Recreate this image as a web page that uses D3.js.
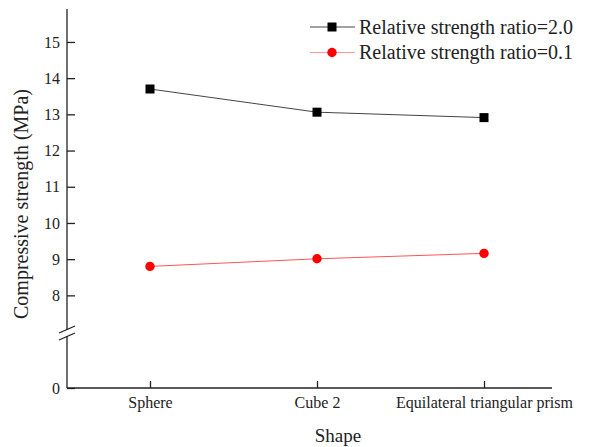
<!DOCTYPE html>
<html>
<head>
<meta charset="utf-8"/>
<script src="https://d3js.org/d3.v7.min.js"></script>
</head>
<body style="margin:0; background:#fff">
<svg id="chart" width="605" height="447"></svg>
<script>
// data
const shapes = ["Sphere", "Cube 2", "Equilateral triangular prism"];
const ratio20 = [13.70, 13.06, 12.91];
const ratio01 = [8.80, 9.01, 9.16];
const seriesNames = ["Relative strength ratio=2.0", "Relative strength ratio=0.1"];
const yTicks = [0, 8, 9, 10, 11, 12, 13, 14, 15];

const serif = "Liberation Serif";
const ink = "#222";
const svg = d3.select("#chart");
const axLeft = 67, axRight = 552, axBottom = 388, axTop = 9;

// broken y axis: 0 sits below the break, 8..15 above it
const y = d3.scaleLinear()
    .domain([0, 6.85, 15.91])
    .range([axBottom, 337, axTop]);
const x = d3.scalePoint()
    .domain(shapes)
    .range([150, 484]);

// axis lines
svg.append("line")
    .attr("x1", axLeft).attr("x2", axRight)
    .attr("y1", axBottom).attr("y2", axBottom)
    .style("stroke", ink).style("stroke-width", 1.3);
svg.append("line")
    .attr("x1", axLeft).attr("x2", axLeft)
    .attr("y1", axTop).attr("y2", 330)
    .style("stroke", ink).style("stroke-width", 1.3);
svg.append("line")
    .attr("x1", axLeft).attr("x2", axLeft)
    .attr("y1", 336).attr("y2", axBottom)
    .style("stroke", ink).style("stroke-width", 1.3);
// break marks
[[59, 333, 75, 326], [59, 340, 75, 333]].forEach(function(b) {
    svg.append("line")
        .attr("x1", b[0]).attr("y1", b[1])
        .attr("x2", b[2]).attr("y2", b[3])
        .style("stroke", ink).style("stroke-width", 1.3);
});

// y ticks, pointing inward
const yAxis = svg.append("g")
    .attr("transform", "translate(" + axLeft + ",0)")
    .call(d3.axisRight(y).tickValues(yTicks).tickSize(8).tickFormat(d3.format("d")));
yAxis.attr("font-family", null).attr("font-size", null);
yAxis.select(".domain").remove();
yAxis.selectAll("line").style("stroke", ink).style("stroke-width", 1.3);
yAxis.selectAll("text")
    .attr("x", -7)
    .attr("text-anchor", "end")
    .style("fill", ink)
    .style("font-size", "16px")
    .style("font-family", serif);

// x ticks, pointing up
const xAxis = svg.append("g")
    .attr("transform", "translate(0," + axBottom + ")")
    .call(d3.axisTop(x).tickSize(7));
xAxis.attr("font-family", null).attr("font-size", null);
xAxis.select(".domain").remove();
xAxis.selectAll("line").style("stroke", ink).style("stroke-width", 1.3);
xAxis.selectAll("text")
    .attr("y", 20)
    .attr("dy", 0)
    .style("fill", ink)
    .style("font-size", "16px")
    .style("font-family", serif);

// axis titles
svg.append("text")
    .text("Shape")
    .attr("x", 338).attr("y", 442)
    .attr("text-anchor", "middle")
    .style("fill", ink)
    .style("font-family", serif)
    .style("font-size", "19px");
svg.append("text")
    .text("Compressive strength (MPa)")
    .attr("transform", "translate(28,204) rotate(-90)")
    .attr("text-anchor", "middle")
    .style("fill", ink)
    .style("font-family", serif)
    .style("font-size", "20px");

// series
const series = [
    { name: seriesNames[0], values: ratio20, line: "#444", fill: "#000", mark: "square" },
    { name: seriesNames[1], values: ratio01, line: "#ff5555", fill: "#ff0000", mark: "circle" }
];
const line = d3.line()
    .x(function(d, i) { return x(shapes[i]); })
    .y(function(d) { return y(d); });

function marker(g, s, cx, cy) {
    if (s.mark === "square") {
        g.append("rect")
            .attr("x", cx - 4.5).attr("y", cy - 4.5)
            .attr("width", 9).attr("height", 9)
            .style("fill", s.fill);
    } else {
        g.append("circle")
            .attr("cx", cx).attr("cy", cy).attr("r", 4.7)
            .style("fill", s.fill);
    }
}

series.forEach(function(s) {
    svg.append("path")
        .attr("d", line(s.values))
        .style("fill", "none")
        .style("stroke", s.line)
        .style("stroke-width", 1);
    const g = svg.append("g");
    s.values.forEach(function(v, i) {
        marker(g, s, x(shapes[i]), y(v));
    });
});

// legend
series.forEach(function(s, i) {
    const ly = 27 + i * 25.5;
    svg.append("line")
        .attr("x1", 310).attr("x2", 355)
        .attr("y1", ly).attr("y2", ly)
        .style("stroke", i === 0 ? "#444" : "#ff9a9a")
        .style("stroke-width", 1.2);
    marker(svg, s, 332, ly);
    svg.append("text")
        .text(s.name)
        .attr("x", 359).attr("y", ly + 6.5)
        .style("fill", ink)
        .style("font-family", serif)
        .style("font-size", "20px");
});
</script>
</body>
</html>
